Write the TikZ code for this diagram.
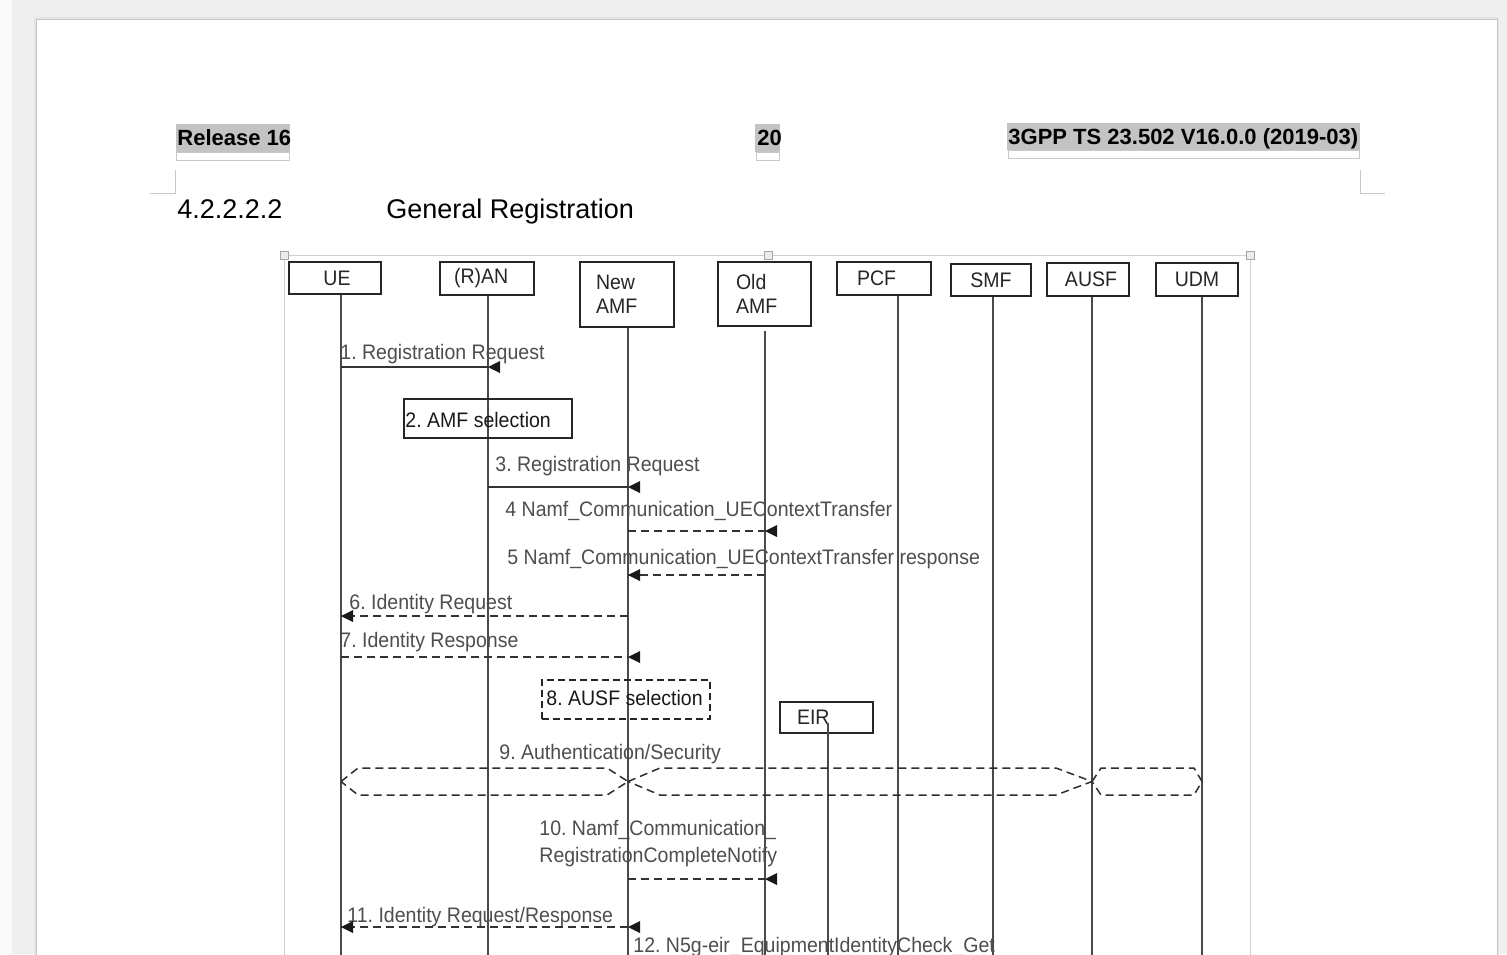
\documentclass[tikz,border=0pt]{standalone}
\usepackage{fontspec}
\setmainfont{Liberation Sans}
\newfontfamily\narrowfont[FakeStretch=0.93]{Liberation Sans}
\usetikzlibrary{calc}
\definecolor{deskgray}{HTML}{EFEFEF}
\definecolor{pageedge}{HTML}{C4C4C4}
\definecolor{fieldgray}{HTML}{C3C3C3}
\definecolor{fieldline}{HTML}{C8C8C8}
\definecolor{msggray}{HTML}{4E4E4E}
\definecolor{lifegray}{HTML}{4A4A4A}
\definecolor{framegray}{HTML}{CFCFCF}
\frenchspacing
\begin{document}
\begin{tikzpicture}[x=0.5pt, y={(0pt,-0.5pt)},
  lbl/.style={font=\narrowfont\fontsize{10.5}{12.6}\selectfont, text=msggray, inner sep=0pt, anchor=base west},
  boxlbl/.style={lbl, text=black!90},
  headbox/.style={draw=black!85, line width=0.75pt, font=\narrowfont\fontsize{10.5}{12}\selectfont, text=black!85, inner sep=0pt},
  actbox/.style={draw=black!85, line width=0.75pt, inner sep=0pt, anchor=north west},
  life/.style={draw=lifegray, line width=0.55pt},
  msg/.style={draw=black!80, line width=0.7pt},
  dmsg/.style={msg, dash pattern=on 4pt off 2.5pt},
  hexarrow/.style={draw=black!82, line width=0.75pt, dash pattern=on 4pt off 2.5pt, line join=round},
  hdr/.style={font=\bfseries\fontsize{11}{13}\selectfont, inner sep=0pt, anchor=base west},
  fieldbox/.style={draw=fieldline, line width=0.5pt, fill=white},
  handle/.style={draw=gray!70, fill=gray!15, line width=0.4pt, minimum size=4pt, inner sep=0pt},
  tipL/.pic={\fill[black!90] (0,0) -- (12,-6) -- (12,6) -- cycle;}
]
% desk and page
\fill[deskgray] (0,0) rectangle (1507,954);
\useasboundingbox (0,0) rectangle (1507,954);
\fill[white!60!deskgray] (0,0) rectangle (12,954);
\fill[black!10] (34,17) rectangle (1499,960);
\fill[white] (36,19) rectangle (1497,960);
\draw[pageedge, line width=0.5pt] (36,960) -- (36,19) -- (1497,19) -- (1497,960);

% running header fields
\fill[fieldgray] (176,124) rectangle (290,152);
\draw[fieldbox] (176,152) rectangle (289,160);
\node[hdr] (rel) at (177,145) {Release 16};
\fill[fieldgray] (755,124) rectangle (780,152);
\draw[fieldbox] (756,152) rectangle (779,160);
\node[hdr] (pg) at (757,145) {20};
\fill[fieldgray] (1007,123) rectangle (1360,150);
\draw[fieldbox] (1008,150) rectangle (1359,158);
\node[hdr] (spec) at (1008,144) {3GPP TS 23.502 V16.0.0 (2019-03)};

% text area corner marks
\draw[fieldline, line width=0.5pt] (150,193) -- (175,193) -- (175,170);
\draw[fieldline, line width=0.5pt] (1360,170) -- (1360,193) -- (1385,193);

% clause heading
\node[font=\fontsize{13.5}{16}\selectfont, inner sep=0pt, anchor=base west] (secno) at (177,218) {4.2.2.2.2};
\node[font=\fontsize{13.5}{16}\selectfont, inner sep=0pt, anchor=base west] (sectitle) at (386,218) {General Registration};

% selected drawing frame with handles
\draw[framegray, line width=0.5pt] (284,960) -- (284,255) -- (1250,255) -- (1250,960);
\node[handle] (hl) at (284,255) {};
\node[handle] (hm) at (768,255) {};
\node[handle] (hr) at (1250,255) {};

% participants
\node[headbox, minimum width=46pt, minimum height=16pt] (ue) at (335,278) {\hspace{2pt}UE};
\node[headbox, minimum width=47pt, minimum height=16.5pt, text width=33pt, inner xsep=7pt, align=left] (ran) at (487,278.5) {(R)AN};
\node[headbox, minimum width=47pt, minimum height=32.5pt, text width=31pt, inner xsep=8pt, align=left] (namf) at (627,294.5) {New\\AMF};
\node[headbox, minimum width=46.5pt, minimum height=32pt, text width=28.5pt, inner xsep=9pt, align=left] (oamf) at (764.5,294) {Old\\AMF};
\node[headbox, minimum width=47pt, minimum height=16.5pt, text width=35pt, inner xsep=6pt, align=left] (pcf) at (884,278.5) {\hspace{4pt}PCF};
\node[headbox, minimum width=40pt, minimum height=16pt] (smf) at (991,280) {SMF};
\node[headbox, minimum width=41pt, minimum height=16.5pt] (ausf) at (1088,279.5) {\hspace{3pt}AUSF};
\node[headbox, minimum width=41pt, minimum height=16.5pt] (udm) at (1197,279.5) {UDM};
\node[headbox, minimum width=46.5pt, minimum height=15.5pt, text width=29.5pt, inner xsep=8.5pt, align=left] (eir) at (826.5,717.5) {EIR};

% lifeline positions
\coordinate (xUE) at (341,0);
\coordinate (xRAN) at (488,0);
\coordinate (xNAMF) at (628,0);
\coordinate (xOAMF) at (765,0);
\coordinate (xPCF) at (898,0);
\coordinate (xSMF) at (993,0);
\coordinate (xAUSF) at (1092,0);
\coordinate (xUDM) at (1202,0);
\coordinate (xEIR) at (828,0);
\coordinate (bottom) at (0,960);

\draw[life] (xUE |- ue.south) -- (xUE |- bottom);
\draw[life] (xRAN |- ran.south) -- (xRAN |- bottom);
\draw[life] (xNAMF |- namf.south) -- (xNAMF |- bottom);
\draw[life] ($(xOAMF |- oamf.south)+(0,4)$) -- (xOAMF |- bottom);
\draw[life] (xPCF |- pcf.south) -- (xPCF |- bottom);
\draw[life] (xSMF |- smf.south) -- (xSMF |- bottom);
\draw[life] (xAUSF |- ausf.south) -- (xAUSF |- bottom);
\draw[life] (xUDM |- udm.south) -- (xUDM |- bottom);
\draw[life] ($(xEIR |- eir.center)+(0,5)$) -- (xEIR |- bottom);

% message rows
\coordinate (m1) at (0,367);
\coordinate (m3) at (0,487);
\coordinate (m4) at (0,531);
\coordinate (m5) at (0,575);
\coordinate (m6) at (0,616);
\coordinate (m7) at (0,657);
\coordinate (m9) at (0,781.5);
\coordinate (m10) at (0,879);
\coordinate (m11) at (0,927);

% 1. Registration Request
\node[lbl] (t1) at (340,359) {1. Registration Request};
\draw[msg] (xUE |- m1) -- (xRAN |- m1);
\pic at (xRAN |- m1) {tipL};

% 2. AMF selection
\node[actbox, minimum width=84pt, minimum height=19.5pt] (amfsel) at (403,398) {};
\node[boxlbl] (amfseltxt) at (405,427) {2. AMF selection};

% 3. Registration Request
\node[lbl] (t3) at (495,471) {3. Registration Request};
\draw[msg] (xRAN |- m3) -- (xNAMF |- m3);
\pic at (xNAMF |- m3) {tipL};

% 4 / 5 context transfer
\node[lbl] (t4) at (505,516) {4 Namf\_Communication\_UEContextTransfer};
\draw[dmsg] (xNAMF |- m4) -- (xOAMF |- m4);
\pic at (xOAMF |- m4) {tipL};

\node[lbl] (t5) at (507,564) {5 Namf\_Communication\_UEContextTransfer response};
\draw[dmsg] (xOAMF |- m5) -- (xNAMF |- m5);
\pic at (xNAMF |- m5) {tipL};

% 6 / 7 identity
\node[lbl] (t6) at (349,609) {6. Identity Request};
\draw[dmsg] (xNAMF |- m6) -- (xUE |- m6);
\pic at (xUE |- m6) {tipL};

\node[lbl] (t7) at (340,647) {7. Identity Response};
\draw[dmsg] (xUE |- m7) -- (xNAMF |- m7);
\pic at (xNAMF |- m7) {tipL};

% 8. AUSF selection
\node[actbox, dash pattern=on 3.5pt off 2pt, minimum width=84pt, minimum height=19.5pt] (ausfsel) at (541,679) {};
\node[boxlbl] (ausfseltxt) at (546,705) {8. AUSF selection};

% 9. Authentication/Security
\node[lbl] (t9) at (499,759) {9. Authentication/Security};
\draw[hexarrow] (xUE |- m9) -- ++(17,-13.5) -- ($(xNAMF |- m9)+(-21,-13.5)$) -- (xNAMF |- m9)
   -- ++(-21,13.5) -- ($(xUE |- m9)+(17,13.5)$) -- cycle;
\draw[hexarrow] (xNAMF |- m9) -- ++(32,-13.5) -- ($(xAUSF |- m9)+(-36,-13.5)$) -- (xAUSF |- m9)
   -- ++(-36,13.5) -- ($(xNAMF |- m9)+(32,13.5)$) -- cycle;
\draw[hexarrow] (xAUSF |- m9) -- ++(9,-13.5) -- ($(xUDM |- m9)+(-8,-13.5)$) -- (xUDM |- m9)
   -- ++(-8,13.5) -- ($(xAUSF |- m9)+(9,13.5)$) -- cycle;

% 10. registration complete notify
\node[lbl] (t10a) at (539,835) {10. Namf\_Communication\_};
\node[lbl] (t10b) at (539,862) {RegistrationCompleteNotify};
\draw[dmsg] (xNAMF |- m10) -- (xOAMF |- m10);
\pic at (xOAMF |- m10) {tipL};

% 11. Identity Request/Response
\node[lbl] (t11) at (347,922) {11. Identity Request/Response};
\draw[dmsg] (xNAMF |- m11) -- (xUE |- m11);
\pic at (xUE |- m11) {tipL};
\pic at (xNAMF |- m11) {tipL};

% 12. EIR check
\node[lbl] (t12) at (633,952) {12. N5g-eir\_EquipmentIdentityCheck\_Get};
\end{tikzpicture}
\end{document}
